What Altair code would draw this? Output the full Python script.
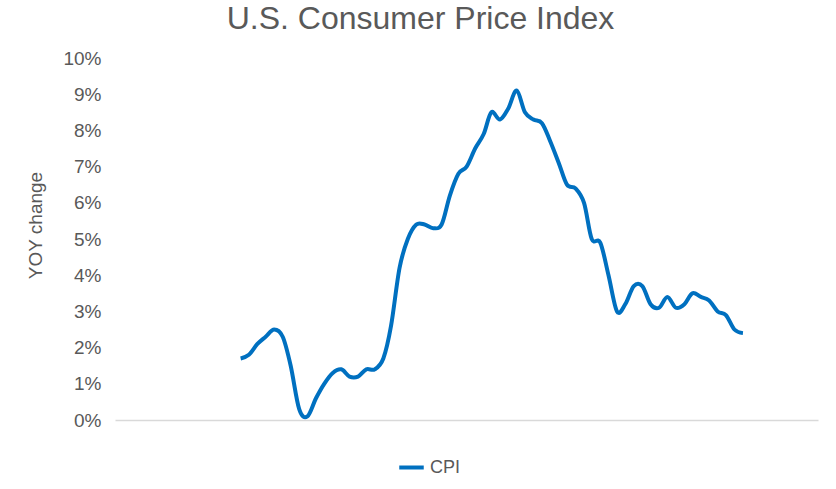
import altair as alt
import pandas as pd

months = [
    "2019-09", "2019-10", "2019-11", "2019-12",
    "2020-01", "2020-02", "2020-03", "2020-04", "2020-05", "2020-06",
    "2020-07", "2020-08", "2020-09", "2020-10", "2020-11", "2020-12",
    "2021-01", "2021-02", "2021-03", "2021-04", "2021-05", "2021-06",
    "2021-07", "2021-08", "2021-09", "2021-10", "2021-11", "2021-12",
    "2022-01", "2022-02", "2022-03", "2022-04", "2022-05", "2022-06",
    "2022-07", "2022-08", "2022-09", "2022-10", "2022-11", "2022-12",
    "2023-01", "2023-02", "2023-03", "2023-04", "2023-05", "2023-06",
    "2023-07", "2023-08", "2023-09", "2023-10", "2023-11", "2023-12",
    "2024-01", "2024-02", "2024-03", "2024-04", "2024-05", "2024-06",
    "2024-07", "2024-08", "2024-09",
]
cpi = [
    1.7, 1.8, 2.1, 2.3,
    2.5, 2.3, 1.5, 0.3, 0.1, 0.6, 1.0, 1.3, 1.4, 1.2, 1.2, 1.4,
    1.4, 1.7, 2.6, 4.2, 5.0, 5.4, 5.4, 5.3, 5.4, 6.2, 6.8, 7.0,
    7.5, 7.9, 8.5, 8.3, 8.6, 9.1, 8.5, 8.3, 8.2, 7.7, 7.1, 6.5,
    6.4, 6.0, 5.0, 4.9, 4.0, 3.0, 3.2, 3.7, 3.7, 3.2, 3.1, 3.4,
    3.1, 3.2, 3.5, 3.4, 3.3, 3.0, 2.9, 2.5, 2.4,
]
series = ["CPI"]
y_ticks = [0, 1, 2, 3, 4, 5, 6, 7, 8, 9, 10]
x_range = ["2018-06-01", "2025-06-01"]

df = pd.DataFrame({
    "date": [m + "-01" for m in months],
    "value": cpi,
    "series": series[0],
})

FONT = "Liberation Sans"
GRAY = "#595959"

chart = (
    alt.Chart(df)
    .mark_line(strokeWidth=4, interpolate="cardinal")
    .encode(
        x=alt.X(
            "date:T",
            scale=alt.Scale(type="utc", domain=x_range),
            axis=alt.Axis(
                title=None, labels=False, ticks=False, grid=False,
                domainColor="#d9d9d9", domainWidth=1.5,
            ),
        ),
        y=alt.Y(
            "value:Q",
            scale=alt.Scale(domain=[0, 10], nice=False),
            axis=alt.Axis(
                title="YOY change", values=y_ticks, labelExpr="datum.value + '%'",
                grid=False, ticks=False, domain=False,
                labelFont=FONT, labelFontSize=19, labelColor=GRAY, labelPadding=14,
                titleFont=FONT, titleFontSize=19, titleColor=GRAY,
                titleFontWeight="normal", titlePadding=17, titleY=167,
            ),
        ),
        color=alt.Color(
            "series:N",
            scale=alt.Scale(domain=series, range=["#0070C0"]),
            legend=alt.Legend(
                title=None, orient="none", legendX=282, legendY=33 + 362,
                symbolType="stroke", symbolStrokeWidth=4, symbolSize=600,
                labelFont=FONT, labelFontSize=18, labelColor=GRAY,
                labelOffset=4, padding=0,
            ),
        ),
    )
    .properties(
        width=703,
        height=362,
        title=alt.TitleParams(
            "U.S. Consumer Price Index", font=FONT, fontSize=32,
            fontWeight="normal", color=GRAY, dx=-46, offset=13,
        ),
        autosize=alt.AutoSizeParams(type="none"),
        padding={"left": 115, "top": 58, "right": 18, "bottom": 69},
    )
    .configure_view(stroke=None)
)

chart.save("out.html", embed_options={"renderer": "svg", "actions": False})
